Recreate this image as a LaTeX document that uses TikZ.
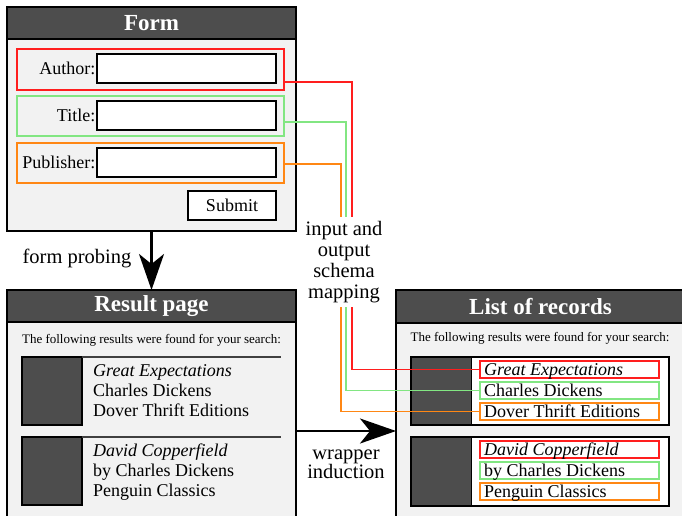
\documentclass[tikz,border=0pt]{standalone}
\usepackage{fontspec}
\setmainfont{Liberation Serif}
\usetikzlibrary{arrows.meta,calc}
\definecolor{barg}{RGB}{77,77,77}
\definecolor{bodyg}{RGB}{242,242,242}
\definecolor{cred}{RGB}{255,30,30}
\definecolor{cgreen}{RGB}{130,230,130}
\definecolor{corange}{RGB}{255,135,20}
\newcommand{\fs}[2]{\fontsize{#1}{#2}\selectfont}
\begin{document}
\begin{tikzpicture}[x=1pt,y=-1pt,
  box/.style={anchor=north west, inner sep=0pt, outer sep=0pt},
  panel/.style={box, draw=black, line width=2.5pt, fill=bodyg, minimum width=289pt},
  titlebar/.style={box, draw=black, line width=2.5pt, fill=barg, text=white, font=\bfseries\fs{23}{26}, minimum width=289pt},
  grp/.style={box, line width=1.3pt, minimum width=267pt, minimum height=41pt},
  inbox/.style={box, draw=black, line width=2pt, fill=white, minimum width=179pt, minimum height=29pt, font=\fs{18}{20}},
  flabel/.style={anchor=east, inner sep=1.5pt, font=\fs{18}{20}},
  small/.style={font=\fs{13}{15}, inner sep=0pt},
  cover/.style={box, draw=black, line width=1.5pt, fill=barg, minimum width=60pt, minimum height=68pt},
  rulel/.style={draw=black!75, line width=1.5pt},
  rtext/.style={anchor=base west, inner sep=0pt, font=\fs{18}{20}},
  field/.style={box, line width=1.3pt, fill=white, minimum width=179pt, minimum height=17pt},
  ftext/.style={anchor=base west, inner sep=0pt, font=\fs{18}{20}},
  recbox/.style={box, minimum width=258pt, minimum height=68pt},
  lab/.style={font=\fs{20.5}{21}, inner sep=0pt, align=center},
  link/.style={line width=1.4pt},
  bigarrow/.style={line width=2.5pt, -{Stealth[length=36pt, width=25pt, inset=10pt]}}
]
\useasboundingbox (0,0) rectangle (682,515);
\clip (0,0) rectangle (682,515);

% ---------- Form ----------
\node[panel, minimum height=224pt] (form) at (7,7) {};
\node[titlebar, minimum height=32pt] (formbar) at (7,7) {Form};

\node[grp, draw=cred] (gA) at (17,49) {};
\node[grp, draw=cgreen, minimum height=40pt] (gB) at (17,96) {};
\node[grp, draw=corange, minimum height=40pt] (gC) at (17,143) {};

\node[inbox] (iA) at (97,54) {};
\node[inbox] (iB) at (97,101) {};
\node[inbox] (iC) at (97,148) {};
\node[flabel] (lA) at (iA.west) {Author:};
\node[flabel] (lB) at (iB.west) {Title:};
\node[flabel] (lC) at (iC.west) {Publisher:};
\node[inbox, minimum width=88pt] (sub) at (188,191) {Submit};

% ---------- Result page ----------
\node[panel, minimum height=260pt] (res) at (7,290) {};
\node[titlebar, minimum height=32pt] (resbar) at (7,290) {Result page};
\node[small] (restxt) at (151.5,340) {The following results were found for your search:};

\node[cover] (rs1) at (22,357) {};
\draw[rulel] (rs1.north east) -- ([xshift=199pt]rs1.north east);
\node[rtext] (r1a) at (93,376) {\textit{Great Expectations}};
\node[rtext] (r1b) at (93,396) {Charles Dickens};
\node[rtext] (r1c) at (93,416) {Dover Thrift Editions};

\node[cover] (rs2) at (22,437) {};
\draw[rulel] (rs2.north east) -- ([xshift=199pt]rs2.north east);
\node[rtext] (r2a) at (93,456) {\textit{David Copperfield}};
\node[rtext] (r2b) at (93,476) {by Charles Dickens};
\node[rtext] (r2c) at (93,496) {Penguin Classics};

% ---------- List of records ----------
\node[panel, minimum height=260pt] (lst) at (396,290) {};
\node[titlebar, minimum height=33pt] (lstbar) at (396,290) {List of records};
\node[small] (lsttxt) at (540,338) {The following results were found for your search:};

\node[recbox, fill=white] (lr1) at (411,357) {};
\node[cover, draw=none] (ld1) at (411,357) {};
\draw[black, line width=2.3pt] (lr1.north west) rectangle (lr1.south east);
\draw[black, line width=0.8pt] (ld1.north east) -- (ld1.south east);
\node[field, draw=cred] (fA1) at (480,361) {};
\node[field, draw=cgreen] (fB1) at (480,382) {};
\node[field, draw=corange] (fC1) at (480,403) {};
\node[ftext] (tA1) at ([xshift=4pt,yshift=2.5pt]fA1.south west) {\textit{Great Expectations}};
\node[ftext] (tB1) at ([xshift=4pt,yshift=2.5pt]fB1.south west) {Charles Dickens};
\node[ftext] (tC1) at ([xshift=4pt,yshift=2.5pt]fC1.south west) {Dover Thrift Editions};

\node[recbox, fill=white] (lr2) at (411,437) {};
\node[cover, draw=none, minimum height=69pt] (ld2) at (411,437) {};
\draw[black, line width=2.3pt] (lr2.north west) rectangle ([yshift=-1pt]lr2.south east);
\draw[black, line width=0.8pt] (ld2.north east) -- (ld2.south east);
\node[field, draw=cred] (fA2) at (480,441) {};
\node[field, draw=cgreen] (fB2) at (480,462) {};
\node[field, draw=corange] (fC2) at (480,483) {};
\node[ftext] (tA2) at ([xshift=4pt,yshift=2.5pt]fA2.south west) {\textit{David Copperfield}};
\node[ftext] (tB2) at ([xshift=4pt,yshift=2.5pt]fB2.south west) {by Charles Dickens};
\node[ftext] (tC2) at ([xshift=4pt,yshift=2.5pt]fC2.south west) {Penguin Classics};

% ---------- schema mapping connectors ----------
\coordinate (xr) at (352,0);
\coordinate (xg) at (346,0);
\coordinate (xo) at (341,0);
\draw[link, cred] ([yshift=-12.5pt]gA.east) -| (xr |- fA1.west) -- (fA1.west);
\draw[link, cgreen] ([yshift=-6pt]gB.east) -| (xg |- fB1.west) -- (fB1.west);
\draw[link, corange] ([yshift=-1pt]gC.east) -| (xo |- fC1.west) -- (fC1.west);
\node[lab, fill=white, inner xsep=2pt, inner ysep=4pt] (ism) at (344,262) {input and\\output\\schema\\mapping};

% ---------- main arrows ----------
\draw[bigarrow] (form.south) -- (resbar.north);
\node[lab, anchor=base] (fp) at (77,263) {form probing};
\coordinate (wy) at (0,431);
\draw[bigarrow] (res.east |- wy) -- (lst.west |- wy);
\node[lab, font=\fs{20.5}{19}] (wi) at (346,464) {wrapper\\induction};
\end{tikzpicture}
\end{document}
